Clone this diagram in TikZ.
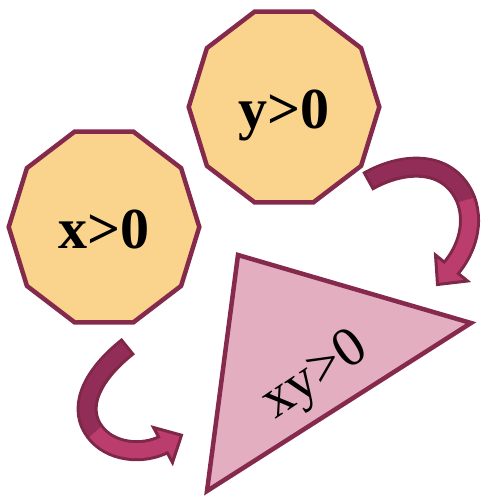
\documentclass[tikz,border=0pt]{standalone}
\usepackage{fontspec}
\setmainfont{Liberation Serif}
\definecolor{decafill}{HTML}{FAD38D}
\definecolor{edge}{HTML}{85294D}
\definecolor{trifill}{HTML}{E3AEBF}
\definecolor{arrdark}{HTML}{922D58}
\definecolor{arrlight}{HTML}{BA3D6D}
\definecolor{arredge}{HTML}{7E2749}
\begin{document}
\begin{tikzpicture}[x=1pt,y=-1pt,
  deca/.style={draw=edge, fill=decafill, line width=4.5pt, line join=miter},
  decatext/.style={font=\fontsize{58}{62}\selectfont\bfseries, anchor=base, inner sep=0pt},
  tri/.style={draw=edge, fill=trifill, line width=4.5pt, line join=miter},
  tritext/.style={font=\fontsize{56}{60}\selectfont, rotate=34, inner sep=0pt},
  arrout/.style={draw=arredge, line width=21pt},
  arrdk/.style={draw=arrdark, line width=15pt},
  arrlt/.style={draw=arrlight, line width=15pt},
  arrhead/.style={draw=arredge, fill=arrlight, line width=3pt, line join=miter}]
\useasboundingbox (0,0) rectangle (486,501);

% decagon x>0
\coordinate (cx) at (104,227);
\begin{scope}[shift={(cx)}]
  \draw[deca] (0:95.3 and 100.2) \foreach \a in {36,72,...,324}{ -- (\a:95.3 and 100.2)} -- cycle;
\end{scope}
\node[decatext] (xt) at (104,248) {x>0};

% decagon y>0
\coordinate (cy) at (284,107);
\begin{scope}[shift={(cy)}]
  \draw[deca] (0:95.3 and 100.2) \foreach \a in {36,72,...,324}{ -- (\a:95.3 and 100.2)} -- cycle;
\end{scope}
\node[decatext] (yt) at (284,128) {y>0};

% triangle
\coordinate (ta) at (238,255);
\coordinate (tb) at (471,323);
\coordinate (tc) at (207,491);
\draw[tri] (ta) -- (tb) -- (tc) -- cycle;
\node[tritext] (xyt) at (316,377) {xy>0};

% arrow 1 (top right)
\coordinate (a1s) at (370,180);
\coordinate (a1f) at (466,200);
\coordinate (a1e) at (449.4,270);
\draw[arrout, shorten <=-3pt] (a1s) .. controls (405,160) and (450,160) .. (a1f)
  .. controls (476,228) and (463,255) .. (a1e);
\draw[arrhead] (435.5,255) -- (437.5,284.5) -- (467.5,281) -- cycle;
\draw[arrdk] (a1s) .. controls (405,160) and (450,160) .. (a1f);
\draw[arrlt] (a1f) .. controls (476,228) and (463,255) .. (a1e);

% arrow 2 (bottom left)
\coordinate (a2s) at (126,348);
\coordinate (a2f) at (95,432);
\coordinate (a2e) at (165.2,443.8);
\draw[arrout, shorten <=-3pt] (a2s) .. controls (88,378) and (78,410) .. (a2f)
  .. controls (110,452) and (142,456) .. (a2e);
\draw[arrhead] (153.5,427.5) -- (181.5,435.2) -- (172.5,462.5) -- cycle;
\draw[arrdk] (a2s) .. controls (88,378) and (78,410) .. (a2f);
\draw[arrlt] (a2f) .. controls (110,452) and (142,456) .. (a2e);
\end{tikzpicture}
\end{document}
